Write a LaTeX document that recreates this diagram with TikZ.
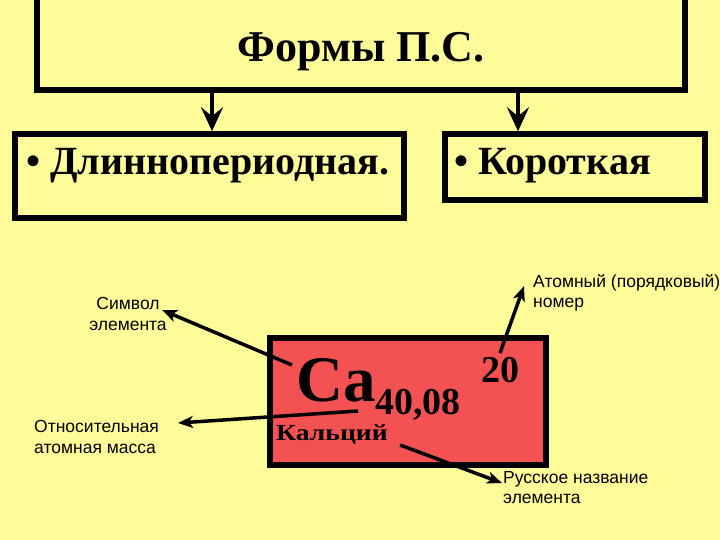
\documentclass[tikz,border=0pt]{standalone}
\usepackage{fontspec}
\setmainfont{Liberation Serif}
\newfontfamily\lsans{Liberation Sans}
\usetikzlibrary{arrows.meta}
\definecolor{bgyellow}{RGB}{255,253,153}
\definecolor{elred}{RGB}{244,82,82}
\tikzset{
  framebox/.style={draw=black, line width=5.5pt, inner sep=0pt},
  bigtxt/.style={inner sep=0pt, font=\bfseries\fontsize{40}{44}\selectfont},
  lbl/.style={inner sep=0pt, font=\lsans\fontsize{17.5}{20.5}\selectfont},
  downarrow/.style={line width=4pt, -{Stealth[length=24pt,width=22pt,inset=9pt]}},
  ptrarrow/.style={line width=3.5pt, -{Stealth[length=15pt,width=12pt,inset=4pt]}}
}
\begin{document}
\begin{tikzpicture}[x=1pt,y=-1pt]
\fill[bgyellow] (0,0) rectangle (720,540);
\useasboundingbox (0,0) rectangle (720,540);

% boxes
\node[framebox, minimum width=648pt, minimum height=93pt] (top) at (361,43.5) {};
\node[anchor=base, inner sep=0pt, font=\bfseries\fontsize{44}{48}\selectfont] (toptxt) at (361,62) {Формы П.С.};

\node[framebox, minimum width=389pt, minimum height=84pt] (left) at (209.5,176) {};
\node[bigtxt, anchor=base west] (lefttxt) at (26,175) {• Длиннопериодная.};

\node[framebox, minimum width=260pt, minimum height=66pt] (right) at (575,167) {};
\node[bigtxt, anchor=base west] (righttxt) at (454,175) {• Короткая};

\draw[downarrow] (top.south -| 212,0) -- (left.north -| 212,0);
\draw[downarrow] (top.south -| 518,0) -- (right.north -| 518,0);

% element cell
\node[draw=black, fill=elred, line width=6pt, inner sep=0pt, minimum width=276pt, minimum height=127pt] (cell) at (408,401.5) {};
\node[anchor=base west, inner sep=0pt, font=\bfseries\fontsize{65}{70}\selectfont] (ca) at (296,401) {Ca};
\node[anchor=base west, inner sep=0pt, font=\bfseries\fontsize{38}{42}\selectfont] (mass) at (375,414) {40,08};
\node[anchor=base west, inner sep=0pt, font=\bfseries\fontsize{38}{42}\selectfont] (num) at (481,382) {20};
\node[anchor=base west, inner sep=0pt, xscale=1.2, font=\bfseries\fontsize{23}{26}\selectfont] (name) at (276,440) {Кальций};

% labels (base anchor = baseline of last line)
\node[lbl, anchor=base, align=center] (lsym) at (128,330) {Символ\\элемента};
\node[lbl, anchor=base west, align=left] (lmass) at (34,453) {Относительная\\атомная масса};
\node[lbl, anchor=base west, align=left] (lnum) at (533,307.5) {Атомный (порядковый)\\номер};
\node[lbl, anchor=base west, align=left] (lname) at (503,503.5) {Русское название\\элемента};

% pointer arrows
\coordinate (s1) at (292,365); \coordinate (t1) at (162,310);
\coordinate (s2) at (358,411); \coordinate (t2) at (178,423);
\coordinate (s3) at (400,445); \coordinate (t3) at (502,483);
\coordinate (s4) at (500,353); \coordinate (t4) at (524,286);
\draw[ptrarrow] (s1) -- (t1);
\draw[ptrarrow] (s2) -- (t2);
\draw[ptrarrow] (s3) -- (t3);
\draw[ptrarrow] (s4) -- (t4);
\end{tikzpicture}
\end{document}
